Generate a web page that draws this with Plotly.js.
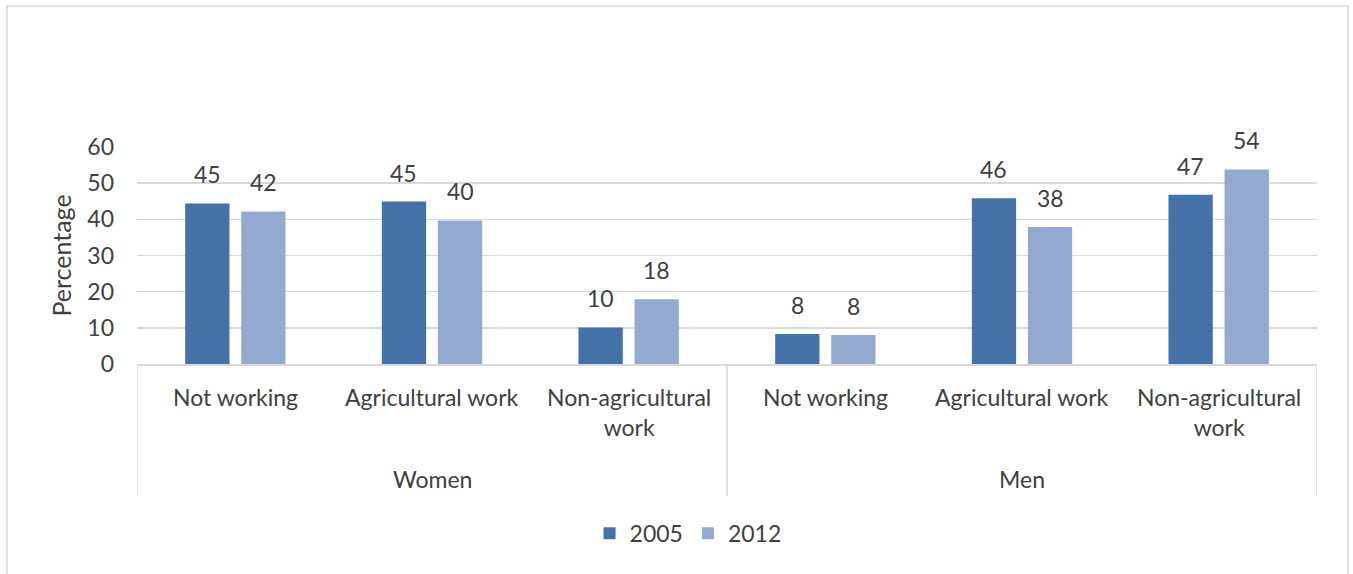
<!DOCTYPE html>
<html>
<head>
<meta charset="utf-8">
<script src="https://cdn.plot.ly/plotly-3.0.1.min.js"></script>
<style>html,body{margin:0;padding:0;background:#fff;}#chart{width:1353px;height:574px;}</style>
</head>
<body>
<div id="chart"></div>
<script>
const groups = ["Women", "Women", "Women", "Men", "Men", "Men"];
const categories = ["Not working", "Agricultural work", "Non-agricultural<br>work", "Not working", "Agricultural work", "Non-agricultural<br>work"];
const seriesNames = ["2005", "2012"];
const values2005 = [44.4, 44.9, 10.1, 8.3, 45.8, 46.8];
const values2012 = [42.2, 39.7, 17.9, 8.0, 37.9, 53.8];
const labels2005 = ["45", "45", "10", "8", "46", "47"];
const labels2012 = ["42", "40", "18", "8", "38", "54"];
const yTicks = [0, 10, 20, 30, 40, 50, 60];

const FONT = "Lato, 'Open Sans', sans-serif";
const TXT = "#404040";
const FS = 23;
const COLORS = ["#4472a6", "#94a9cf"];
const BARGAP = 0.43, GROUPGAP = 0.21;

const idx = categories.map((c, i) => i);
const seriesVals = [values2005, values2012];
const seriesLabels = [labels2005, labels2012];

const traces = seriesNames.map((n, s) => ({
  type: "bar", name: n, x: idx, y: seriesVals[s],
  marker: {color: COLORS[s], line: {width: 0}}, hoverinfo: "none"
}));

const annotations = [];
// value labels above each bar
const slot = (1 - BARGAP) / seriesNames.length;
seriesNames.forEach((n, s) => {
  const off = -(1 - BARGAP) / 2 + slot * (s + 0.5);
  idx.forEach(i => annotations.push({
    x: i + off, y: seriesVals[s][i], xref: "x", yref: "y", text: seriesLabels[s][i],
    showarrow: false, yanchor: "bottom", xanchor: "center", yshift: 13,
    font: {size: FS, color: TXT, family: FONT}
  }));
});
// category labels
idx.forEach(i => annotations.push({
  x: i, y: 0, xref: "x", yref: "paper", text: categories[i], showarrow: false,
  yanchor: "top", xanchor: "center", yshift: -17, align: "center",
  font: {size: FS, color: TXT, family: FONT}
}));
// group labels and dividers
const groupNames = [...new Set(groups)];
const shapes = [];
groupNames.forEach(g => {
  const members = idx.filter(i => groups[i] === g);
  const center = members.reduce((a, b) => a + b, 0) / members.length;
  annotations.push({
    x: center, y: 0, xref: "x", yref: "paper", text: g, showarrow: false,
    yanchor: "top", xanchor: "center", yshift: -99,
    font: {size: FS, color: TXT, family: FONT}
  });
});
const bounds = [-0.5];
idx.forEach(i => { if (i === idx.length - 1 || groups[i] !== groups[i + 1]) bounds.push(i + 0.5); });
bounds.forEach(b => shapes.push({
  type: "line", xref: "x", yref: "paper", x0: b, x1: b, y0: 0, y1: -0.607,
  line: {color: "#d9d9d9", width: 1.5}
}));
// outer chart border
shapes.push({type: "rect", xref: "paper", yref: "paper", x0: -0.1102, x1: 1.0263, y0: -0.98, y1: 1.65,
  line: {color: "#d9d9d9", width: 1.5}, fillcolor: "rgba(0,0,0,0)", layer: "below"});

const layout = {
  width: 1353, height: 574,
  margin: {l: 137, r: 36, t: 147, b: 210},
  paper_bgcolor: "#ffffff", plot_bgcolor: "#ffffff",
  font: {family: FONT, size: FS, color: TXT},
  barmode: "group", bargap: BARGAP, bargroupgap: GROUPGAP,
  showlegend: true,
  legend: {orientation: "h", x: 0.467, xanchor: "center", y: -0.78, yanchor: "middle",
           font: {size: FS, color: TXT, family: FONT}, traceorder: "normal", itemwidth: 30},
  xaxis: {type: "linear", range: [-0.5, idx.length - 0.5], showticklabels: false, ticks: "",
          showline: true, linecolor: "#d9d9d9", linewidth: 1.5, showgrid: false, zeroline: false},
  yaxis: {range: [0, 60], tickvals: yTicks, ticktext: yTicks.map(String), showgrid: true,
          gridcolor: "#d9d9d9", gridwidth: 1.5, zeroline: false, showline: false,
          tickfont: {size: FS, color: TXT, family: FONT}, ticklen: 0, ticks: "", ticklabelstandoff: 22,
          title: {text: "Percentage", font: {size: 25, color: TXT, family: FONT}, standoff: 8}},
  annotations: annotations,
  shapes: shapes
};

Plotly.newPlot("chart", traces, layout, {displayModeBar: false, staticPlot: true});
</script>
</body>
</html>
